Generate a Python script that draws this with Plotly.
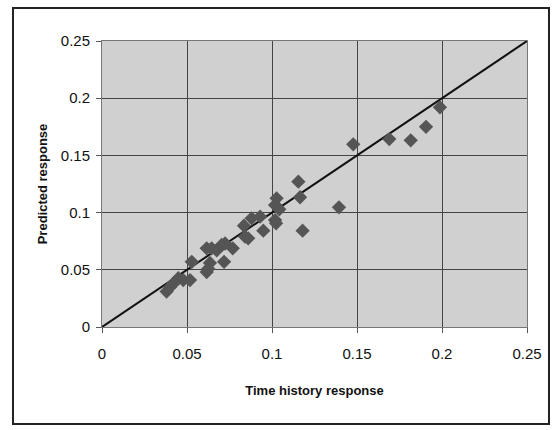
import plotly.graph_objects as go

time_history = [0.0449, 0.0478, 0.0518, 0.042, 0.040, 0.038, 0.0528, 0.0616, 0.0625, 0.0635,
                0.0718, 0.0616, 0.0645, 0.0675, 0.0704, 0.0724, 0.0769, 0.0841, 0.086, 0.0835,
                0.088, 0.093, 0.0949, 0.1018, 0.1024, 0.1027, 0.1018, 0.1043, 0.1155, 0.1165,
                0.118, 0.1478, 0.169, 0.1816, 0.1906, 0.1988, 0.1394]
predicted = [0.0426, 0.041, 0.041, 0.038, 0.035, 0.031, 0.057, 0.048, 0.051, 0.056,
             0.057, 0.0688, 0.0688, 0.067, 0.0717, 0.073, 0.0688, 0.079, 0.0775, 0.0886,
             0.095, 0.0964, 0.0842, 0.0935, 0.0906, 0.1125, 0.1066, 0.1029, 0.127, 0.1134,
             0.0842, 0.1597, 0.1643, 0.1632, 0.175, 0.192, 0.1046]
line_x = [0, 0.25]
line_y = [0, 0.25]
ticks = [0, 0.05, 0.1, 0.15, 0.2, 0.25]
tick_labels = ["0", "0.05", "0.1", "0.15", "0.2", "0.25"]

fig = go.Figure()
fig.add_trace(go.Scatter(x=line_x, y=line_y, mode="lines",
                         line=dict(color="#111111", width=2), showlegend=False))
fig.add_trace(go.Scatter(x=time_history, y=predicted, mode="markers",
                         marker=dict(symbol="diamond", size=11, color="#555555"),
                         showlegend=False))

font = "Liberation Sans, Arial, sans-serif"
fig.update_layout(
    width=554, height=430,
    margin=dict(l=102, r=27, t=41, b=103),
    paper_bgcolor="white",
    plot_bgcolor="#d0d0d0",
    font=dict(family=font, size=15, color="#111111"),
    xaxis=dict(range=[0, 0.25], tickvals=ticks, ticktext=tick_labels,
               showgrid=True, gridcolor="#444444", gridwidth=1,
               showline=True, linecolor="#777777", linewidth=1, mirror=True,
               ticks="outside", ticklen=5, tickcolor="#555555",
               ticklabelstandoff=8,
               zeroline=False,
               title=dict(text="<b>Time history response</b>", font=dict(size=13), standoff=24)),
    yaxis=dict(range=[0, 0.25], tickvals=ticks, ticktext=tick_labels,
               showgrid=True, gridcolor="#444444", gridwidth=1,
               showline=True, linecolor="#777777", linewidth=1, mirror=True,
               ticks="outside", ticklen=5, tickcolor="#555555",
               ticklabelstandoff=3,
               zeroline=False,
               title=dict(text="<b>Predicted response</b>", font=dict(size=13), standoff=10)),
)

fig.add_shape(type="rect", xref="paper", yref="paper",
              x0=(13 - 102) / 425, x1=(549 - 102) / 425,
              y0=(327 - 424) / 286, y1=(327 - 8) / 286,
              line=dict(color="#222222", width=2), fillcolor="rgba(0,0,0,0)", layer="below")

fig.write_html("out.html")
